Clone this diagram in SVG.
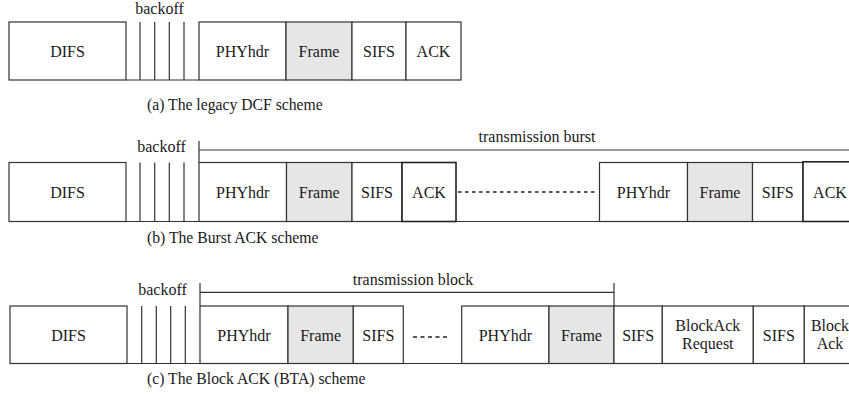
<svg xmlns="http://www.w3.org/2000/svg" width="849" height="400" viewBox="0 0 849 400">
<style>
.b{fill:#fff;stroke:#333;stroke-width:1.2}
.f{fill:#e6e6e6;stroke:#333;stroke-width:1.2}
.k{fill:#fff;stroke:#222;stroke-width:1.6}
.l{stroke:#333;stroke-width:1.2;fill:none}
.d{stroke:#222;stroke-width:1.5;fill:none;stroke-dasharray:3.5 3.5}
.d2{stroke:#222;stroke-width:1.5;fill:none;stroke-dasharray:4 3.5}
text{font-family:"Liberation Serif","Times New Roman",serif;font-size:16px;fill:#1a1a1a;text-anchor:middle}
text.c{font-size:15.7px;text-anchor:start}
</style>
<rect width="849" height="400" fill="#fff"/>

<!-- Row (a) -->
<g id="a-difs"><rect class="b" x="9" y="22" width="117" height="58"/><text x="67.5" y="56.5">DIFS</text></g>
<g id="a-backoff">
<line class="l" x1="126" y1="80" x2="199" y2="80"/>
<line class="l" x1="140" y1="22" x2="140" y2="80"/>
<line class="l" x1="154.7" y1="22" x2="154.7" y2="80"/>
<line class="l" x1="169.3" y1="22" x2="169.3" y2="80"/>
<line class="l" x1="184" y1="22" x2="184" y2="80"/>
<text x="159.5" y="13.5">backoff</text>
</g>
<g id="a-phyhdr"><rect class="b" x="199" y="22" width="87" height="58"/><text x="242.5" y="56.5">PHYhdr</text></g>
<g id="a-frame"><rect class="f" x="286" y="22" width="66" height="58"/><text x="319" y="56.5">Frame</text></g>
<g id="a-sifs"><rect class="b" x="352" y="22" width="54" height="58"/><text x="379" y="56.5">SIFS</text></g>
<g id="a-ack"><rect class="b" x="406" y="22" width="55" height="58"/><text x="433.5" y="56.5">ACK</text></g>
<text class="c" x="147" y="110">(a) The legacy DCF scheme</text>

<!-- Row (b) -->
<g id="b-difs"><rect class="b" x="9" y="162.5" width="117" height="59"/><text x="67.5" y="197.5">DIFS</text></g>
<g id="b-backoff">
<line class="l" x1="126" y1="221.5" x2="199" y2="221.5"/>
<line class="l" x1="140" y1="162.5" x2="140" y2="221.5"/>
<line class="l" x1="154.7" y1="162.5" x2="154.7" y2="221.5"/>
<line class="l" x1="169.3" y1="162.5" x2="169.3" y2="221.5"/>
<line class="l" x1="184" y1="162.5" x2="184" y2="221.5"/>
<text x="161.5" y="151.5">backoff</text>
</g>
<g id="b-phyhdr1"><rect class="b" x="199" y="162.5" width="87.5" height="59"/><text x="242.75" y="197.5">PHYhdr</text></g>
<g id="b-frame1"><rect class="f" x="286.5" y="162.5" width="65.5" height="59"/><text x="319.25" y="197.5">Frame</text></g>
<g id="b-sifs1"><rect class="b" x="352" y="162.5" width="50" height="59"/><text x="377" y="197.5">SIFS</text></g>
<g id="b-ack1"><rect class="k" x="402" y="162.5" width="54" height="59"/><text x="429" y="197.5">ACK</text></g>
<g id="b-phyhdr2"><rect class="b" x="599.5" y="162.5" width="88" height="59"/><text x="643.5" y="197.5">PHYhdr</text></g>
<g id="b-frame2"><rect class="f" x="687.5" y="162.5" width="65" height="59"/><text x="720" y="197.5">Frame</text></g>
<g id="b-sifs2"><rect class="b" x="752.5" y="162.5" width="50.5" height="59"/><text x="777.75" y="197.5">SIFS</text></g>
<g id="b-ack2"><rect class="k" x="803" y="161.8" width="60" height="59.7"/><text x="830" y="197.5">ACK</text></g>
<text x="537" y="142">transmission burst</text>
<text class="c" x="147" y="243">(b) The Burst ACK scheme</text>

<!-- Row (c) -->
<g id="c-difs"><rect class="b" x="10" y="306" width="117" height="57.5"/><text x="68.5" y="340.5">DIFS</text></g>
<g id="c-backoff">
<line class="l" x1="127" y1="363.5" x2="200" y2="363.5"/>
<line class="l" x1="141.7" y1="306" x2="141.7" y2="363.5"/>
<line class="l" x1="156.3" y1="306" x2="156.3" y2="363.5"/>
<line class="l" x1="170.7" y1="306" x2="170.7" y2="363.5"/>
<line class="l" x1="185.3" y1="306" x2="185.3" y2="363.5"/>
<text x="162.5" y="294.5">backoff</text>
</g>
<g id="c-phyhdr1"><rect class="b" x="200" y="306" width="88" height="57.5"/><text x="244" y="340.5">PHYhdr</text></g>
<g id="c-frame1"><rect class="f" x="288" y="306" width="65.3" height="57.5"/><text x="320.65" y="340.5">Frame</text></g>
<g id="c-sifs1"><rect class="b" x="353.3" y="306" width="50" height="57.5"/><text x="378.3" y="340.5">SIFS</text></g>
<g id="c-phyhdr2"><rect class="b" x="461.7" y="306" width="87.3" height="57.5"/><text x="505.35" y="340.5">PHYhdr</text></g>
<g id="c-frame2"><rect class="f" x="549" y="306" width="65" height="57.5"/><text x="581.5" y="340.5">Frame</text></g>
<g id="c-sifs2"><rect class="b" x="614" y="306" width="48.3" height="57.5"/><text x="638.15" y="340.5">SIFS</text></g>
<g id="c-bar"><rect class="b" x="662.3" y="306" width="91" height="57.5"/><text x="707.8" y="331">BlockAck</text><text x="707.8" y="348.5">Request</text></g>
<g id="c-sifs3"><rect class="b" x="753.3" y="306" width="51" height="57.5"/><text x="778.8" y="340.5">SIFS</text></g>
<g id="c-blockack"><rect class="b" x="804.3" y="306" width="60" height="57.5"/><text x="830" y="331">Block</text><text x="830" y="348.5">Ack</text></g>
<text x="413" y="285">transmission block</text>
<text class="c" x="147" y="384">(c) The Block ACK (BTA) scheme</text>

<g id="connectors">
<!-- row b -->
<line class="l" x1="199" y1="141" x2="199" y2="162.5"/>
<line class="l" x1="199" y1="150" x2="849" y2="150"/>
<line class="l" x1="456" y1="221.5" x2="599.5" y2="221.5"/>
<line class="d" x1="458" y1="192" x2="598" y2="192"/>
<!-- row c -->
<line class="l" x1="200" y1="283" x2="200" y2="306"/>
<line class="l" x1="200" y1="292.3" x2="614" y2="292.3"/>
<line class="l" x1="614" y1="283" x2="614" y2="306"/>
<line class="l" x1="403.3" y1="363.5" x2="461.7" y2="363.5"/>
<line class="d2" x1="413" y1="337" x2="448" y2="337"/>
</g>
</svg>
